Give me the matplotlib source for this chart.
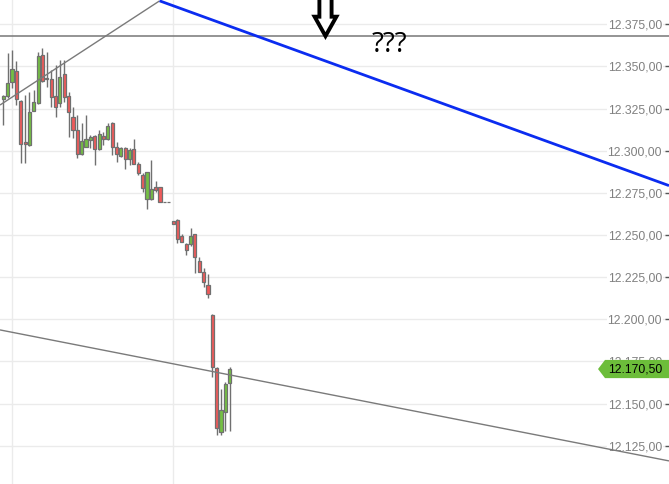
import numpy as np
import matplotlib.pyplot as plt
from matplotlib.patches import Polygon, FancyArrow
from matplotlib.ticker import FuncFormatter, FixedLocator

##### DATA #####
# candle OHLC values (index = candle number)
opens = [12330.7, 12332.5, 12341.0, 12347.3, 12329.5, 12305.0, 12303.4, 12323.6, 12328.3, 12356.8,
         12343.4, 12342.6, 12332.5, 12328.3, 12345.5, 12332.5, 12320.0, 12312.3, 12298.1, 12302.2,
         12306.4, 12308.7, 12301.0, 12308.5, 12307.0, 12316.5, 12302.2, 12296.9, 12301.6, 12295.1,
         12301.0, 12292.1, 12285.6, 12271.4, 12271.4, 12278.5, 12278.5, 12269.6, 12269.6, 12258.3,
         12258.9, 12249.4, 12244.7, 12244.7, 12250.6, 12234.6, 12228.1, 12220.4, 12202.6, 12171.2,
         12133.2, 12145.1, 12162.3]
highs = [12333.1, 12358.0, 12359.8, 12353.2, 12330.0, 12333.1, 12334.8, 12336.0, 12358.6, 12361.2,
         12358.8, 12347.9, 12350.9, 12353.8, 12353.8, 12334.8, 12325.9, 12321.2, 12316.5, 12321.2,
         12309.3, 12309.3, 12312.3, 12311.0, 12316.5, 12316.8, 12305.2, 12302.0, 12302.0, 12301.6,
         12307.0, 12293.3, 12286.8, 12287.5, 12294.5, 12282.1, 12278.6, 12269.6, 12269.6, 12258.4,
         12259.5, 12250.6, 12245.3, 12254.2, 12250.7, 12237.0, 12230.5, 12226.9, 12203.0, 12171.8,
         12158.8, 12162.9, 12171.8]
lows = [12315.3, 12331.3, 12337.0, 12327.1, 12292.7, 12292.7, 12303.0, 12323.3, 12328.0, 12340.5,
        12338.0, 12325.9, 12320.0, 12325.9, 12328.9, 12308.2, 12307.6, 12295.7, 12297.5, 12302.0,
        12301.6, 12291.5, 12300.5, 12303.4, 12306.5, 12297.5, 12293.3, 12296.3, 12289.1, 12291.5,
        12291.9, 12285.6, 12275.5, 12265.5, 12271.0, 12275.5, 12269.5, 12269.6, 12269.6, 12256.5,
        12245.3, 12245.8, 12238.2, 12243.5, 12227.5, 12228.0, 12219.2, 12212.7, 12165.9, 12131.4,
        12131.4, 12133.8, 12133.8]
closes = [12332.5, 12340.2, 12348.3, 12330.7, 12304.0, 12304.0, 12323.0, 12328.9, 12356.2, 12341.4,
          12342.6, 12331.9, 12325.9, 12343.7, 12331.9, 12323.0, 12312.3, 12298.1, 12305.8, 12307.0,
          12308.2, 12301.0, 12309.9, 12307.2, 12314.7, 12302.2, 12298.1, 12301.6, 12295.1, 12300.4,
          12292.1, 12286.8, 12277.9, 12287.4, 12277.3, 12276.7, 12269.6, 12269.6, 12269.6, 12256.6,
          12247.7, 12245.9, 12241.2, 12249.4, 12237.0, 12228.1, 12222.2, 12215.0, 12171.8, 12135.6,
          12146.3, 12161.7, 12170.5]

price_ticks = [12125, 12150, 12175, 12200, 12225, 12250, 12275, 12300, 12325, 12350, 12375]
time_grid = [2, 39]  # vertical grid lines (candle index)

# drawn lines: (x0, y0, x1, y1) in candle index / price
resistance = 12368.0
rising_line = (-0.76, 12327.1, 35.9, 12388.9)
blue_line = (35.9, 12388.9, 152.9, 12279.3)
lower_line = (-0.76, 12193.7, 152.9, 12116.0)
last_price = 12170.50

##### PLOT #####
fig = plt.figure(figsize=(6.69, 4.84), dpi=100)
ax = fig.add_axes([0, 0, 1, 1])
ax.set_xlim(-0.76, 152.9)
ax.set_ylim(12102.3, 12389.4)
for s in ax.spines.values():
    s.set_visible(False)

grid_col = "#ebebeb"
for p in price_ticks:
    ax.axhline(p, color=grid_col, lw=1, zorder=0)
for g in time_grid:
    ax.axvline(g, color=grid_col, lw=1, zorder=0)

# candles
idx = np.arange(len(opens))
o = np.array(opens); c = np.array(closes)
up = c > o
colors = np.where(up, "#74c043", "#ef5a5a")
edge = "#707070"
ax.vlines(idx, lows, highs, color=edge, lw=1, zorder=2)
ax.bar(idx, np.abs(c - o), bottom=np.minimum(o, c), width=0.72, color=colors,
       edgecolor=edge, linewidth=0.9, zorder=3)

# trend lines
ax.axhline(resistance, color="#777777", lw=1.1, zorder=4)
for (x0, y0, x1, y1), col, lw in [(rising_line, "#7a7a7a", 1.0),
                                  (blue_line, "#0b2cf0", 2.0),
                                  (lower_line, "#7a7a7a", 1.0)]:
    ax.plot([x0, x1], [y0, y1], color=col, lw=lw, zorder=4, solid_capstyle="butt")

# hollow arrow + ???
ax.add_patch(FancyArrow(74.0, 12395.0, 0, resistance - 12395.0, width=2.8, head_width=5.0,
                        head_length=11.5, length_includes_head=True, fc="white",
                        ec="black", lw=2.8, zorder=6, clip_on=False, joinstyle="miter"))
ax.text(88.7, 12362.5, "???", fontsize=20, family="Open Sans", ha="center",
        va="center", color="black", zorder=6)

# price axis on the right, inside the plot
ax.yaxis.set_major_locator(FixedLocator(price_ticks))
ax.yaxis.set_major_formatter(FuncFormatter(
    lambda v, pos: f"{v:,.2f}".replace(",", "X").replace(".", ",").replace("X", ".")))
ax.yaxis.tick_right()
ax.tick_params(axis="y", direction="in", length=3, width=1, color="#555555",
               pad=-5.0, labelsize=8.8, labelcolor="#808080")
for t in ax.yaxis.get_major_ticks():
    t.label2.set_horizontalalignment("right")
    t.label2.set_family("Liberation Sans")
    t.label2.set_bbox(dict(facecolor="white", edgecolor="none", pad=0.6))
ax.set_xticks([])

# last price tag
h = 5.4
ax.add_patch(Polygon([(136.6, last_price), (138.2, last_price + h), (160, last_price + h),
                      (160, last_price - h), (138.2, last_price - h)],
                     closed=True, fc="#6cbd3a", ec="none", zorder=7))
ax.text(151.4, last_price, "12.170,50", fontsize=8.8, family="Liberation Sans",
        ha="right", va="center", color="black", zorder=8)

fig.savefig("out.png", dpi=100)
